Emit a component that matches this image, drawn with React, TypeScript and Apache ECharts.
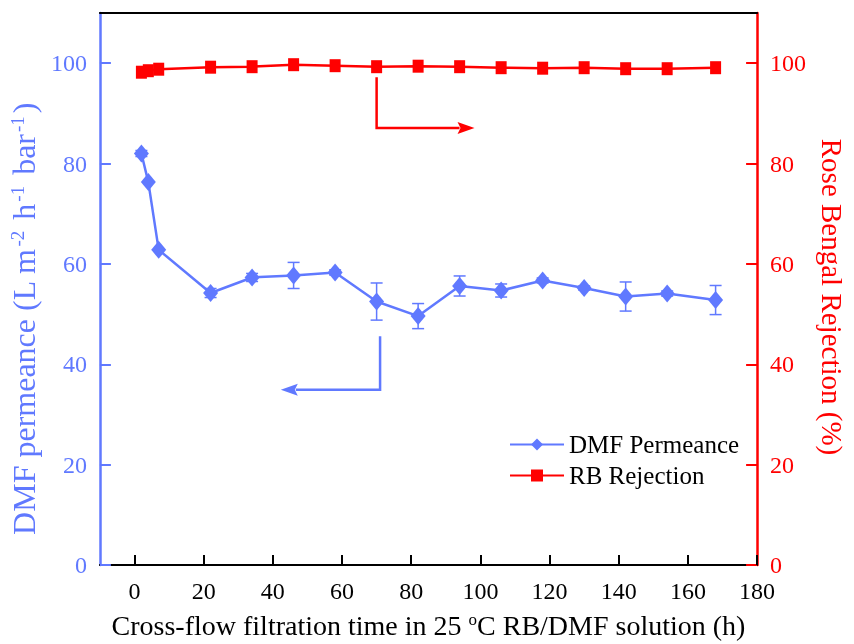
import React, { useEffect, useRef } from "react";
import * as echarts from "echarts";

const times = [2, 4, 7, 22, 34, 46, 58, 70, 82, 94, 106, 118, 130, 142, 154, 168];
const permeance = [82.0, 76.3, 62.8, 54.2, 57.3, 57.7, 58.3, 52.5, 49.6, 55.6, 54.7, 56.7, 55.2, 53.5, 54.1, 52.8];
const permeanceErr = [0.6, 0, 0, 0.9, 0.8, 2.6, 0.5, 3.7, 2.5, 2.0, 1.3, 0.5, 0.4, 2.9, 0.5, 2.9];
const rejection = [98.2, 98.5, 98.8, 99.2, 99.3, 99.7, 99.5, 99.3, 99.4, 99.3, 99.1, 99.0, 99.1, 98.9, 98.9, 99.1];
const xTicks = [0, 20, 40, 60, 80, 100, 120, 140, 160, 180];
const yTicks = [0, 20, 40, 60, 80, 100];
// annotation arrows in data coordinates: [time, value]
const redArrow = [[70, 97.2], [70, 87.1], [98.3, 87.1]];
const blueArrow = [[71, 45.6], [71, 34.9], [42.3, 34.9]];

const BLUE = "#6079ff";
const RED = "#ff0000";
const FONT = "'Liberation Serif', 'Times New Roman', serif";

export default function App() {
  const ref = useRef<HTMLDivElement>(null);
  useEffect(() => {
    if (!ref.current) return;
    document.body.style.margin = "0";
    document.body.style.overflow = "hidden";
    const chart = echarts.init(ref.current, undefined, { renderer: "svg", width: 854, height: 644 });
    const errData = times
      .map((t, i) => [t, permeance[i] - permeanceErr[i], permeance[i] + permeanceErr[i], permeanceErr[i]])
      .filter((d) => d[3] > 0);
    chart.setOption({
      animation: false,
      textStyle: { fontFamily: FONT },
      grid: { left: 98, right: 76, top: 13, bottom: 76, containLabel: false },
      legend: {
        orient: "vertical",
        left: 504,
        top: 427,
        itemWidth: 54,
        itemHeight: 15,
        itemGap: 6,
        data: ["DMF Permeance", "RB Rejection"],
        textStyle: { fontFamily: FONT, fontSize: 25, color: "#000" },
      },
      xAxis: [
        {
          type: "value",
          min: -10,
          max: 180,
          position: "bottom",
          name: "Cross-flow filtration time in 25 {sup|o}C RB/DMF solution (h)",
          nameLocation: "middle",
          nameGap: 46,
          nameTextStyle: {
            fontFamily: FONT,
            fontSize: 28,
            color: "#000",
            rich: { sup: { fontFamily: FONT, fontSize: 17, verticalAlign: "top", lineHeight: 16, color: "#000" } },
          },
          axisLine: { show: true, onZero: false, lineStyle: { color: "#000", width: 2 } },
          axisTick: { show: true, inside: true, length: 10, customValues: xTicks, lineStyle: { color: "#000", width: 2 } },
          axisLabel: { customValues: xTicks, fontFamily: FONT, fontSize: 24, color: "#000", margin: 14 },
          splitLine: { show: false },
        },
        {
          type: "value",
          min: -10,
          max: 180,
          position: "top",
          axisLine: { show: true, onZero: false, lineStyle: { color: "#000", width: 2 } },
          axisTick: { show: false },
          axisLabel: { show: false },
          splitLine: { show: false },
        },
      ],
      yAxis: [
        {
          type: "value",
          min: 0,
          max: 110,
          position: "left",
          name: "DMF permeance (L m{sup|-2} h{sup|-1} bar{sup|-1})",
          nameLocation: "middle",
          nameGap: 52,
          nameTextStyle: {
            fontFamily: FONT,
            fontSize: 32,
            color: BLUE,
            padding: [0, 60, 0, 0],
            rich: { sup: { fontFamily: FONT, fontSize: 19, verticalAlign: "top", lineHeight: 16, color: BLUE, padding: [0, 3, 0, 2] } },
          },
          axisLine: { show: true, onZero: false, lineStyle: { color: BLUE, width: 2.5 } },
          axisTick: { show: true, inside: true, length: 11, customValues: yTicks, lineStyle: { color: BLUE, width: 2 } },
          axisLabel: { customValues: yTicks, fontFamily: FONT, fontSize: 24, color: BLUE, margin: 13 },
          splitLine: { show: false },
        },
        {
          type: "value",
          min: 0,
          max: 110,
          position: "right",
          name: "Rose Bengal Rejection (%)",
          nameLocation: "middle",
          nameRotate: -90,
          nameGap: 46,
          nameTextStyle: { fontFamily: FONT, fontSize: 29, color: RED, padding: [0, 0, 0, 16] },
          axisLine: { show: true, onZero: false, lineStyle: { color: RED, width: 2.5 } },
          axisTick: { show: true, inside: true, length: 11, customValues: yTicks, lineStyle: { color: RED, width: 2 } },
          axisLabel: { customValues: yTicks, fontFamily: FONT, fontSize: 24, color: RED, margin: 13 },
          splitLine: { show: false },
        },
      ],
      series: [
        {
          type: "custom",
          name: "err",
          xAxisIndex: 0,
          yAxisIndex: 0,
          data: errData,
          encode: { x: 0, y: [1, 2] },
          z: 1,
          renderItem: (params: any, api: any) => {
            const x = api.value(0);
            const lo = api.value(1);
            const hi = api.value(2);
            const p1 = api.coord([x, hi]);
            const p2 = api.coord([x, lo]);
            const w = 6;
            const style = { stroke: BLUE, lineWidth: 1.5 };
            return {
              type: "group",
              children: [
                { type: "line", shape: { x1: p1[0], y1: p1[1], x2: p2[0], y2: p2[1] }, style },
                { type: "line", shape: { x1: p1[0] - w, y1: p1[1], x2: p1[0] + w, y2: p1[1] }, style },
                { type: "line", shape: { x1: p2[0] - w, y1: p2[1], x2: p2[0] + w, y2: p2[1] }, style },
              ],
            };
          },
        },
        {
          type: "line",
          name: "DMF Permeance",
          xAxisIndex: 0,
          yAxisIndex: 0,
          data: times.map((t, i) => [t, permeance[i]]),
          symbol: "diamond",
          symbolSize: [15, 18],
          itemStyle: { color: BLUE },
          lineStyle: { color: BLUE, width: 2.5 },
          z: 3,
        },
        {
          type: "line",
          name: "RB Rejection",
          xAxisIndex: 0,
          yAxisIndex: 1,
          data: times.map((t, i) => [t, rejection[i]]),
          symbol: "rect",
          symbolSize: [11, 13],
          itemStyle: { color: RED },
          lineStyle: { color: RED, width: 2.5 },
          z: 3,
        },
      ],
    });

    const toPx = (pts: number[][], yIdx: number) =>
      pts.map((p) => chart.convertToPixel({ xAxisIndex: 0, yAxisIndex: yIdx }, p) as number[]);
    const makeArrow = (pts: number[][], color: string) => {
      const n = pts.length;
      const tip = pts[n - 1];
      const prev = pts[n - 2];
      const dx = tip[0] - prev[0];
      const dy = tip[1] - prev[1];
      const len = Math.hypot(dx, dy) || 1;
      const ux = dx / len;
      const uy = dy / len;
      const hl = 17;
      const hw = 6;
      const bx = tip[0] - ux * hl;
      const by = tip[1] - uy * hl;
      const linePts = pts.slice(0, n - 1).concat([[tip[0] - ux * (hl - 2), tip[1] - uy * (hl - 2)]]);
      return [
        { type: "polyline", shape: { points: linePts }, style: { stroke: color, lineWidth: 2.5, fill: "none" }, z: 10 },
        {
          type: "polygon",
          shape: {
            points: [
              [tip[0], tip[1]],
              [bx - uy * hw, by + ux * hw],
              [bx + ux * 3, by + uy * 3],
              [bx + uy * hw, by - ux * hw],
            ],
          },
          style: { fill: color },
          z: 10,
        },
      ];
    };
    chart.setOption({
      graphic: [...makeArrow(toPx(redArrow, 1), RED), ...makeArrow(toPx(blueArrow, 0), BLUE)],
    });
    return () => chart.dispose();
  }, []);
  return <div ref={ref} style={{ position: "fixed", left: 0, top: 0, width: 854, height: 644 }} />;
}
